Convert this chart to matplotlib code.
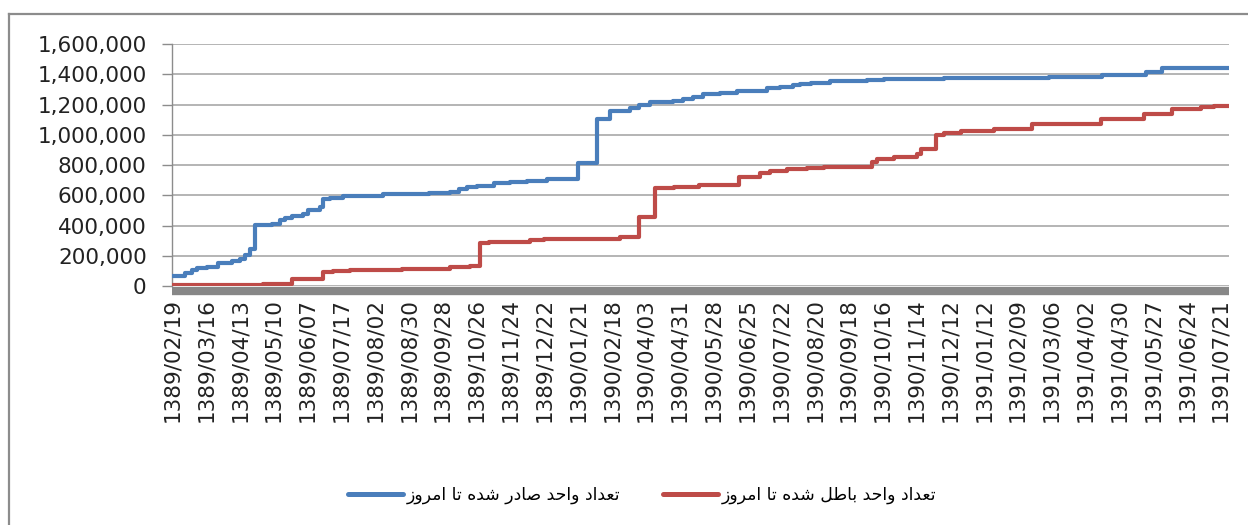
import numpy as np
import matplotlib
matplotlib.use("Agg")
import matplotlib.pyplot as plt
from matplotlib.lines import Line2D

# category axis labels (every label sits on an integer position)
dates = ['1389/02/19', '1389/03/16', '1389/04/13', '1389/05/10', '1389/06/07',
         '1389/07/17', '1389/08/02', '1389/08/30', '1389/09/28', '1389/10/26',
         '1389/11/24', '1389/12/22', '1390/01/21', '1390/02/18', '1390/04/03',
         '1390/04/31', '1390/05/28', '1390/06/25', '1390/07/22', '1390/08/20',
         '1390/09/18', '1390/10/16', '1390/11/14', '1390/12/12', '1391/01/12',
         '1391/02/09', '1391/03/06', '1391/04/02', '1391/04/30', '1391/05/27',
         '1391/06/24', '1391/07/21']

# issued units (cumulative), step points: position on the date axis, value
issued_x = [0.0, 0.385, 0.583, 0.731, 1.027, 1.370, 1.766, 2.012, 2.160, 2.308,
            2.456, 2.950, 3.195, 3.343, 3.541, 3.885, 4.033, 4.379, 4.476, 4.675,
            5.068, 6.251, 7.583, 8.225, 8.471, 8.719, 9.015, 9.506, 10.0, 10.494,
            11.086, 12.012, 12.565, 12.959, 13.550, 13.796, 14.142, 14.822, 15.118,
            15.414, 15.710, 16.213, 16.707, 17.595, 17.988, 18.373, 18.58, 18.876,
            19.467, 20.553, 21.044, 22.82, 25.926, 27.506, 28.787, 29.281, 31.24]
issued_y = [66000, 84000, 106000, 119000, 128000, 154000, 165000, 178000, 205000, 243000,
            403000, 410000, 436000, 447000, 463000, 476000, 502000, 524000, 573000, 584000,
            595000, 606000, 613000, 623000, 641000, 653000, 661000, 679000, 686000, 696000,
            705000, 815000, 1104000, 1160000, 1175000, 1197000, 1214000, 1223000, 1234000,
            1252000, 1267000, 1278000, 1289000, 1307000, 1318000, 1328000, 1334000, 1344000,
            1355000, 1362000, 1369000, 1376000, 1384000, 1395000, 1417000, 1443000, 1443000]

# cancelled units (cumulative)
cancel_x = [0.0, 2.701, 3.541, 4.476, 4.763, 5.266, 6.796, 8.225, 8.817, 9.112,
            9.358, 10.592, 10.985, 13.254, 13.796, 14.290, 14.831, 15.571, 16.754,
            17.396, 17.692, 18.186, 18.778, 19.269, 20.701, 20.849, 21.340, 22.033,
            22.130, 22.574, 22.820, 23.314, 24.299, 25.435, 27.456, 28.737, 29.577,
            30.414, 30.808, 31.24]
cancel_y = [4000, 14000, 44000, 90000, 99000, 106000, 115000, 124000, 132000, 282000,
            293000, 304000, 311000, 322000, 458000, 646000, 657000, 668000, 723000,
            749000, 760000, 771000, 778000, 789000, 822000, 838000, 851000, 873000,
            904000, 998000, 1010000, 1027000, 1036000, 1069000, 1104000, 1137000, 1170000,
            1181000, 1190000, 1190000]

label_issued = 'تعداد واحد صادر شده تا امروز'
label_cancel = 'تعداد واحد باطل شده تا امروز'

# minimal Persian shaping: (isolated, final, initial, medial)
FORMS = {
    'ا': (0xFE8D, 0xFE8E), 'د': (0xFEA9, 0xFEAA), 'ر': (0xFEAD, 0xFEAE),
    'ز': (0xFEAF, 0xFEB0), 'و': (0xFEED, 0xFEEE),
    'ب': (0xFE8F, 0xFE90, 0xFE91, 0xFE92), 'ت': (0xFE95, 0xFE96, 0xFE97, 0xFE98),
    'ح': (0xFEA1, 0xFEA2, 0xFEA3, 0xFEA4), 'ش': (0xFEB5, 0xFEB6, 0xFEB7, 0xFEB8),
    'ص': (0xFEB9, 0xFEBA, 0xFEBB, 0xFEBC), 'ط': (0xFEC1, 0xFEC2, 0xFEC3, 0xFEC4),
    'ع': (0xFEC9, 0xFECA, 0xFECB, 0xFECC), 'ل': (0xFEDD, 0xFEDE, 0xFEDF, 0xFEE0),
    'م': (0xFEE1, 0xFEE2, 0xFEE3, 0xFEE4), 'ه': (0xFEE9, 0xFEEA, 0xFEEB, 0xFEEC),
}


def shape(s):
    out = []
    for i, c in enumerate(s):
        if c not in FORMS:
            out.append(c)
            continue
        prev = s[i - 1] if i > 0 else ''
        nxt = s[i + 1] if i + 1 < len(s) else ''
        jp = prev in FORMS and len(FORMS[prev]) == 4
        jn = len(FORMS[c]) == 4 and nxt in FORMS
        f = FORMS[c]
        if jp and jn:
            code = f[3]
        elif jp:
            code = f[1]
        elif jn:
            code = f[2]
        else:
            code = f[0]
        out.append(chr(code))
    return ''.join(out)[::-1]


plt.rcParams['font.family'] = 'DejaVu Sans'

fig = plt.figure(figsize=(12.48, 5.25), dpi=100)
ax = fig.add_axes([0.1376, 0.4552, 0.9848 - 0.1376, 0.9162 - 0.4552])

blue = '#4a7ebb'
red = '#be4b48'
ax.plot(issued_x, issued_y, drawstyle='steps-post', color=blue, lw=3.0,
        solid_joinstyle='round', solid_capstyle='round', zorder=3)
ax.plot(cancel_x, cancel_y, drawstyle='steps-post', color=red, lw=3.0,
        solid_joinstyle='round', solid_capstyle='round', zorder=3)

ax.set_xlim(-0.01, 31.25)
ax.set_ylim(0, 1600000)
ax.set_yticks(np.arange(0, 1600001, 200000))
ax.yaxis.set_major_formatter(matplotlib.ticker.FuncFormatter(lambda v, p: f'{int(v):,}'))
ax.set_xticks(range(len(dates)))
ax.set_xticklabels(dates)

ax.grid(axis='y', color='#a0a0a0', lw=1.1)
ax.set_axisbelow(True)
for s in ['top', 'right']:
    ax.spines[s].set_visible(False)
ax.spines['left'].set_color('#8c8c8c')
ax.spines['left'].set_linewidth(1.0)
ax.spines['bottom'].set_color('#878787')
ax.spines['bottom'].set_linewidth(6.0)
ax.spines['bottom'].set_capstyle('butt')
ax.spines['bottom'].set_position(('outward', 3.6))
ax.tick_params(axis='y', length=7, width=1, color='#8c8c8c', pad=11,
               labelsize=15.5, labelcolor='#222222')
ax.tick_params(axis='x', length=0, pad=5, labelsize=15.5, labelcolor='#222222',
               labelrotation=90)
for t in ax.get_xticklabels():
    t.set_va('top')
    t.set_ha('center')

handles = [Line2D([], [], color=blue, lw=3.6, solid_capstyle='round'),
           Line2D([], [], color=red, lw=3.6, solid_capstyle='round')]
fig.legend(handles, [shape(label_issued), shape(label_cancel)], loc='center',
           bbox_to_anchor=(0.5145, 0.057), ncol=2, frameon=False, fontsize=12.4,
           handlelength=3.2, handletextpad=0.2, columnspacing=2.5)

# chart area border
fig.add_artist(Line2D([9 / 1248, 1.0], [1 - 14 / 525, 1 - 14 / 525],
                      transform=fig.transFigure, color='#8c8c8c', lw=1.6))
fig.add_artist(Line2D([9 / 1248, 9 / 1248], [0.0, 1 - 14 / 525],
                      transform=fig.transFigure, color='#8c8c8c', lw=1.6))

fig.savefig('out.png', dpi=100)
